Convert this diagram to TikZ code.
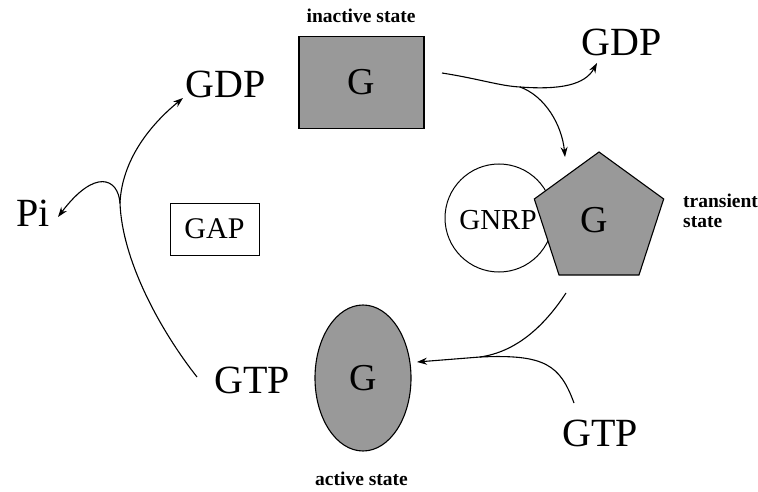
\documentclass[tikz,border=0pt]{standalone}
\usepackage{fontspec}
\setmainfont{Liberation Serif}
\usetikzlibrary{arrows.meta,shapes.geometric}
\definecolor{shade}{gray}{0.6}
\tikzset{
  big/.style={font=\fontsize{40}{44}\selectfont, inner sep=0pt},
  mid/.style={font=\fontsize{30}{34}\selectfont, inner sep=0pt},
  small/.style={font=\fontsize{19.5}{20}\selectfont\bfseries, inner sep=0pt},
  prot/.style={draw, line width=1.1pt, fill=shade, inner sep=0pt, font=\fontsize{38}{40}\selectfont},
  conn/.style={line width=1.1pt, -{Stealth[length=10pt,width=7pt]}},
  plain/.style={line width=1.1pt}
}
\begin{document}
\begin{tikzpicture}[x=1pt,y=-1pt]
\useasboundingbox (0,0) rectangle (758,492);
% inactive
\node[small] (lin) at (361,16) {inactive state};
\node[prot, minimum width=125pt, minimum height=92pt] (gin) at (361.5,82.5) {G};
\node[big] (gdpr) at (622,42) {GDP};
% transient
\node[draw, line width=1pt, fill=white, circle, minimum size=108pt] (gnrpc) at (499,218) {};
\node[prot, regular polygon, regular polygon sides=5, minimum size=136pt] (gtr) at (599,220) {};
\node[font=\fontsize{38}{40}\selectfont, inner sep=0pt] (gtrl) at (594,220) {G};
\node[font=\fontsize{29}{32}\selectfont, inner sep=0pt] (gnrp) at (498,220) {GNRP};
\node[small, anchor=west, align=left] (ltr) at (683,211) {transient\\state};
% active
\node[prot, ellipse, minimum width=96pt, minimum height=146pt] (gac) at (363,378) {G};
\node[big] (gtpl) at (252,380) {GTP};
\node[small] (lac) at (361.5,479) {active state};
\node[big] (gtpr) at (600,433) {GTP};
% left side
\node[draw, line width=0.8pt, mid, minimum width=89pt, minimum height=52pt] (gap) at (214.5,229) {GAP};
\node[big] (gdpl) at (226,84) {GDP};
\node[big] (pi) at (33,213) {Pi};
% junctions
\coordinate (s1) at (442,73);
\coordinate (jr) at (520,87);
\coordinate (t1) at (597,63);
\coordinate (t2) at (565,157);
\coordinate (s3) at (566,293);
\coordinate (t3) at (417,362);
\coordinate (s4) at (574,403);
\coordinate (j2) at (480,357);
\coordinate (s5) at (197,377);
\coordinate (j1) at (120,203);
\coordinate (t5) at (183,98);
\coordinate (t6) at (58,217);
% connectors
\draw[plain] (s1) .. controls (480,79) and (500,86) .. (jr);
\draw[conn] (jr) .. controls (560,90) and (585,85) .. (t1);
\draw[conn] (jr) .. controls (545,96) and (562,125) .. (t2);
\draw[conn] (s3) .. controls (543,328) and (515,352) .. (j2) -- (t3);
\draw[plain] (s4) .. controls (560,365) and (545,354) .. (j2);
\draw[plain] (s5) .. controls (160,330) and (122,260) .. (j1);
\draw[conn] (j1) .. controls (122,160) and (150,125) .. (t5);
\draw[conn] (j1) .. controls (118,178) and (95,168) .. (t6);
\end{tikzpicture}
\end{document}
